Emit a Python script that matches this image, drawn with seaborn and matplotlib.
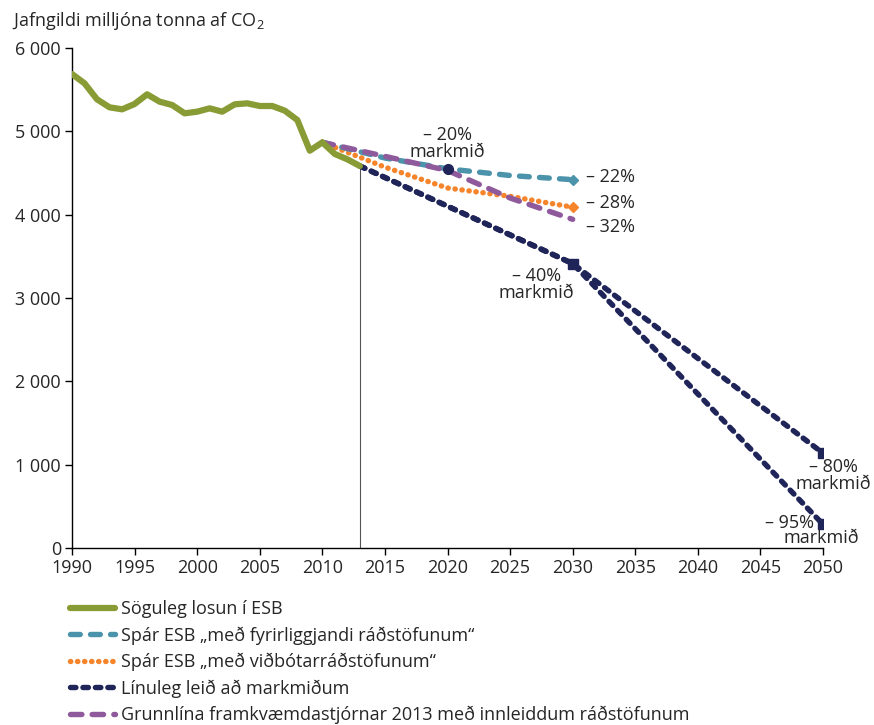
import matplotlib
matplotlib.use("Agg")
import matplotlib.pyplot as plt
import matplotlib.ticker as mticker
import seaborn as sns
import pandas as pd

sns.set_style("ticks")
plt.rcParams['font.family'] = ['Open Sans', 'DejaVu Sans']
plt.rcParams['mathtext.fontset'] = 'custom'
plt.rcParams['mathtext.rm'] = 'Open Sans'

# ---- data ----
hist_years = list(range(1990, 2014))
hist_vals = [5688, 5576, 5384, 5288, 5264, 5328, 5444, 5356, 5316, 5216, 5236, 5276,
             5236, 5324, 5336, 5304, 5304, 5248, 5136, 4768, 4868, 4728, 4664, 4584]

proj_years = [2010, 2015, 2020, 2025, 2030]
existing_vals = [4868, 4680, 4550, 4470, 4420]
additional_vals = [4868, 4570, 4320, 4220, 4090]
baseline2013_vals = [4868, 4700, 4530, 4200, 3944]

path_years = [2013, 2030, 2050]
path80_vals = [4584, 3413, 1138]
path95_vals = [4584, 3413, 284]

target_years = [2020, 2030, 2050, 2050]
target_vals = [4550, 3413, 1138, 284]

labels = ["Söguleg losun í ESB",
          "Spár ESB „með fyrirliggjandi ráðstöfunum“",
          "Spár ESB „með viðbótarráðstöfunum“",
          "Línuleg leið að markmiðum",
          "Grunnlína framkvæmdastjórnar 2013 með innleiddum ráðstöfunum"]

c_green = "#889b34"
c_teal = "#4a93aa"
c_orange = "#f5842b"
c_navy = "#1f2459"
c_purple = "#8f5a9c"

fig = plt.figure(figsize=(8.74, 7.25), dpi=100)
ax = fig.add_axes([72/874, 1-548/725, (823-72)/874, 500/725])

# vertical marker line at 2013
ax.vlines(hist_years[-1], 0, hist_vals[-1], color="#555555", linewidth=0.8, zorder=1)

lw = 3.9
sns.lineplot(x=path_years, y=path80_vals, ax=ax, color=c_navy, linewidth=lw,
             linestyle=(0, (1.0, 1.3)), dash_capstyle='round', label=labels[3], zorder=3)
sns.lineplot(x=path_years, y=path95_vals, ax=ax, color=c_navy, linewidth=lw,
             linestyle=(0, (1.0, 1.3)), dash_capstyle='round', zorder=3)
sns.lineplot(x=proj_years, y=additional_vals, ax=ax, color=c_orange, linewidth=lw,
             linestyle=(0, (0.05, 1.25)), dash_capstyle='round', label=labels[2], zorder=4)
sns.lineplot(x=proj_years, y=existing_vals, ax=ax, color=c_teal, linewidth=lw,
             linestyle=(0, (1.8, 1.9)), dash_capstyle='round', label=labels[1], zorder=5)
sns.lineplot(x=proj_years, y=baseline2013_vals, ax=ax, color=c_purple, linewidth=lw,
             linestyle=(0, (2.1, 1.9)), dash_capstyle='round', label=labels[4], zorder=6)
sns.lineplot(x=hist_years, y=hist_vals, ax=ax, color=c_green, linewidth=4.5,
             label=labels[0], zorder=7)

# end markers
ax.plot(proj_years[-1], existing_vals[-1], marker='D', color=c_teal, markersize=5.5, zorder=8)
ax.plot(proj_years[-1], additional_vals[-1], marker='D', color=c_orange, markersize=5.5, zorder=8)
ax.plot(target_years[0], target_vals[0], marker='o', color=c_navy, markersize=7, zorder=8)
ax.plot(target_years[1:], target_vals[1:], marker='s', color=c_navy, markersize=7.5,
        linestyle='none', zorder=8)

ax.set_xlim(1990, 2050)
ax.set_ylim(0, 6000)
ax.set_xticks(range(1990, 2051, 5))
ax.set_yticks(range(0, 6001, 1000))
ax.yaxis.set_major_formatter(mticker.FuncFormatter(lambda v, p: f"{int(v):,}".replace(",", " ")))
ax.tick_params(axis='both', labelsize=13, length=5, width=1, color='black', pad=3)
for s in ['top', 'right']:
    ax.spines[s].set_visible(False)
for s in ['left', 'bottom']:
    ax.spines[s].set_color('black')
    ax.spines[s].set_linewidth(1)
ax.set_xlabel("")
ax.set_ylabel("")

fs = 13
ax.text(2020, 4640, "– 20%\nmarkmið", ha='center', va='bottom', fontsize=fs, linespacing=0.95)
ax.text(2031.1, 4452, "– 22%", ha='left', va='center', fontsize=fs)
ax.text(2031.1, 4140, "– 28%", ha='left', va='center', fontsize=fs)
ax.text(2031.1, 3852, "– 32%", ha='left', va='center', fontsize=fs)
ax.text(2027.1, 3160, "– 40%\nmarkmið", ha='center', va='center', fontsize=fs, linespacing=0.95)
ax.text(2050.8, 870, "– 80%\nmarkmið", ha='center', va='center', fontsize=fs, linespacing=0.95)
ax.text(2047.3, 300, "– 95%", ha='center', va='center', fontsize=fs)
ax.text(2049.9, 115, "markmið", ha='center', va='center', fontsize=fs)

fig.text(12/874, 1-10/725, r"Jafngildi milljóna tonna af CO$_\mathregular{2}$",
         ha='left', va='top', fontsize=13)

# legend
handles, labs = ax.get_legend_handles_labels()
order = [labels.index(l) for l in labs]
hl = sorted(zip(order, handles, labs))
ax.get_legend().remove()
fig.legend([h for _, h, _ in hl], [l for _, _, l in hl], loc='upper left',
           bbox_to_anchor=(70/874, 1-600/725), frameon=False, fontsize=13,
           handlelength=2.5, handletextpad=0.3, labelspacing=0.45,
           borderpad=0, borderaxespad=0)

fig.savefig("out.png", dpi=100)
